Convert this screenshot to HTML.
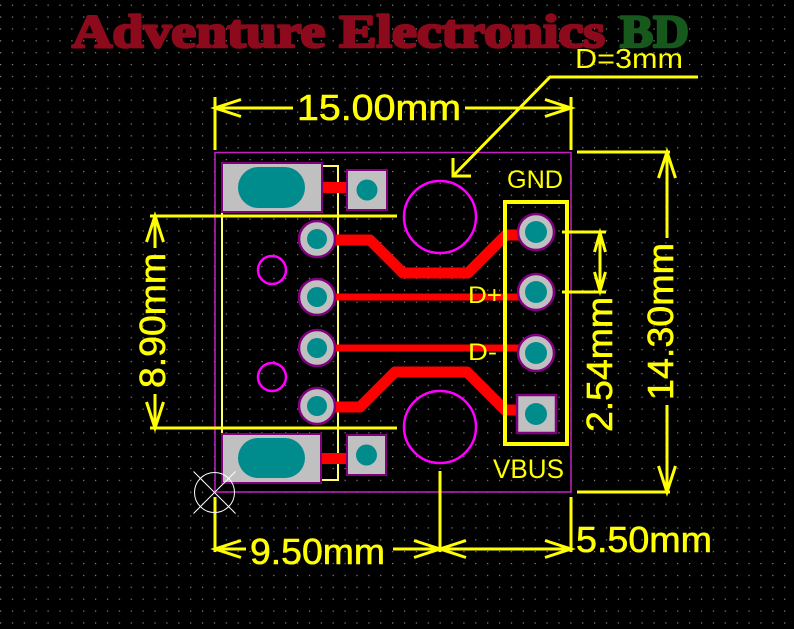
<!DOCTYPE html>
<html>
<head>
<meta charset="utf-8">
<style>
  html,body{margin:0;padding:0;background:#000;}
  svg{display:block;}
  .dim{font-family:"Liberation Sans",sans-serif;fill:#ffff00;stroke:#ffff00;stroke-width:0.6;}
  .lbl{font-family:"Liberation Sans",sans-serif;fill:#ffff00;}
  .yl{stroke:#ffff00;stroke-width:3;fill:none;}
</style>
</head>
<body>
<svg width="794" height="629" viewBox="0 0 794 629" xmlns="http://www.w3.org/2000/svg">
  <defs>
    <pattern id="g" width="11.88" height="11.88" patternUnits="userSpaceOnUse" x="0" y="4.6">
      <rect x="0" y="0" width="1.2" height="1.2" fill="#8a8a8a"/>
    </pattern>
  </defs>
  <rect width="794" height="629" fill="#000"/>
  <rect width="792" height="629" fill="url(#g)"/>

  <!-- Title -->
  <text x="72" y="47" font-family="Liberation Serif, serif" font-weight="bold" font-size="47" fill="#8c0a1c" stroke="#8c0a1c" stroke-width="2.6" stroke-linejoin="round" textLength="533" lengthAdjust="spacingAndGlyphs">Adventure Electronics</text>
  <text x="620" y="47" font-family="Liberation Serif, serif" font-weight="bold" font-size="47" fill="#17581d" stroke="#17581d" stroke-width="2.6" stroke-linejoin="round" textLength="69" lengthAdjust="spacingAndGlyphs">BD</text>

  <!-- Board outline -->
  <rect x="215" y="152.5" width="356" height="339.5" fill="none" stroke="#c020c0" stroke-width="1.5"/>

  <!-- Connector silkscreen -->
  <rect x="222" y="166" width="116" height="314" fill="none" stroke="#ffff66" stroke-width="2"/>

  <!-- Traces -->
  <path d="M317 240 H370 L403 273 H468 L506 235 H536" stroke="#ff0000" stroke-width="11" fill="none" stroke-linejoin="round"/>
  <path d="M317 407 H360 L395 372 H467 L505 410 H536" stroke="#ff0000" stroke-width="11" fill="none" stroke-linejoin="round"/>
  <path d="M317 297 H536" stroke="#ff0000" stroke-width="7" fill="none"/>
  <path d="M317 348 H536" stroke="#ff0000" stroke-width="7" fill="none"/>
  <rect x="321" y="182" width="27" height="11" fill="#ff0000"/>
  <rect x="321" y="453" width="27" height="11" fill="#ff0000"/>

  <!-- Big shield pads -->
  <rect x="222" y="163" width="100" height="49" fill="#c0c0c0" stroke="#800080" stroke-width="2"/>
  <rect x="238" y="167" width="67" height="41" rx="20.5" fill="#008c8c"/>
  <rect x="222" y="434" width="99" height="49" fill="#c0c0c0" stroke="#800080" stroke-width="2"/>
  <rect x="238" y="438" width="67" height="40" rx="20" fill="#008c8c"/>

  <!-- Small square pads -->
  <rect x="347" y="170" width="40" height="40" fill="#c0c0c0" stroke="#800080" stroke-width="2"/>
  <circle cx="367" cy="190" r="10.5" fill="#008c8c"/>
  <rect x="347" y="435" width="39" height="40" fill="#c0c0c0" stroke="#800080" stroke-width="2"/>
  <circle cx="366.5" cy="455" r="10.5" fill="#008c8c"/>

  <!-- Left round pads -->
  <g fill="#c0c0c0" stroke="#800080" stroke-width="2.5">
    <circle cx="317" cy="239" r="18"/>
    <circle cx="317" cy="297" r="18"/>
    <circle cx="317" cy="348" r="18"/>
    <circle cx="317" cy="406" r="18"/>
  </g>
  <g fill="#008c8c">
    <circle cx="317" cy="239" r="10"/>
    <circle cx="317" cy="297" r="10"/>
    <circle cx="317" cy="348" r="10"/>
    <circle cx="317" cy="406" r="10"/>
  </g>

  <!-- Header outline -->
  <rect x="505" y="202" width="62" height="242" fill="none" stroke="#ffff00" stroke-width="4"/>

  <!-- Header pads -->
  <g fill="#c0c0c0" stroke="#800080" stroke-width="2.5">
    <circle cx="536" cy="232" r="18"/>
    <circle cx="536" cy="292" r="18"/>
    <circle cx="536" cy="353" r="18"/>
    <rect x="517" y="395" width="39" height="38"/>
  </g>
  <g fill="#008c8c">
    <circle cx="536" cy="232" r="11"/>
    <circle cx="536" cy="292" r="11"/>
    <circle cx="536" cy="353" r="11"/>
    <circle cx="536" cy="414" r="11"/>
  </g>

  <!-- Mounting holes -->
  <g fill="none" stroke="#ff00ff" stroke-width="2.5">
    <circle cx="440" cy="217" r="36"/>
    <circle cx="440" cy="427" r="36"/>
    <circle cx="272" cy="270" r="14"/>
    <circle cx="272" cy="377" r="14"/>
  </g>

  <!-- Pin labels -->
  <text class="lbl" x="507" y="188" font-size="25" textLength="56" lengthAdjust="spacingAndGlyphs">GND</text>
  <text class="lbl" x="468" y="303" font-size="24" textLength="34" lengthAdjust="spacingAndGlyphs">D+</text>
  <text class="lbl" x="468" y="360" font-size="24" textLength="29" lengthAdjust="spacingAndGlyphs">D-</text>
  <text class="lbl" x="493" y="478" font-size="27" textLength="71" lengthAdjust="spacingAndGlyphs">VBUS</text>

  <!-- 15.00mm dimension -->
  <path class="yl" d="M215 97 V150 M571 97 V150 M215 108 H293 M465 108 H571"/>
  <path class="yl" d="M241 99.5 L215 108 L241 116.5 M545 99.5 L571 108 L545 116.5"/>
  <text class="dim" x="297" y="120" font-size="36" textLength="164" lengthAdjust="spacingAndGlyphs">15.00mm</text>

  <!-- D=3mm leader -->
  <text class="lbl" x="575" y="68" font-size="28" textLength="108" lengthAdjust="spacingAndGlyphs">D=3mm</text>
  <path class="yl" d="M698 77 H550 L453 176"/>
  <path class="yl" d="M453 158 V176 H471"/>

  <!-- 8.90mm dimension -->
  <path class="yl" d="M150 216 H397 M150 428 H397 M155 216 V248 M155 394 V428"/>
  <path class="yl" d="M146.5 242 L155 216 L163.5 242 M146.5 402 L155 428 L163.5 402"/>
  <text class="dim" transform="translate(165,388) rotate(-90)" x="0" y="0" font-size="36" textLength="135" lengthAdjust="spacingAndGlyphs">8.90mm</text>

  <!-- 2.54mm dimension -->
  <path class="yl" d="M562 232 H606 M562 292 H606 M600 232 V292"/>
  <path class="yl" d="M594.5 252 L600 233 L605.5 252 M594.5 272 L600 291 L605.5 272"/>
  <text class="dim" transform="translate(612,432) rotate(-90)" x="0" y="0" font-size="36" textLength="135" lengthAdjust="spacingAndGlyphs">2.54mm</text>

  <!-- 14.30mm dimension -->
  <path class="yl" d="M577 152 H670 M577 492 H670 M667 152 V238 M667 405 V492"/>
  <path class="yl" d="M658.5 178 L667 152 L675.5 178 M658.5 466 L667 492 L675.5 466"/>
  <text class="dim" transform="translate(673,400) rotate(-90)" x="0" y="0" font-size="36" textLength="157" lengthAdjust="spacingAndGlyphs">14.30mm</text>

  <!-- 9.50mm / 5.50mm dimensions -->
  <path class="yl" d="M215 497 V552 M440 471 V552 M571 497 V552 M215 549 H246 M393 549 H571"/>
  <path class="yl" d="M241 540.5 L215 549 L241 557.5 M414 540.5 L440 549 L414 557.5 M466 540.5 L440 549 L466 557.5 M545 540.5 L571 549 L545 557.5"/>
  <text class="dim" x="250" y="564" font-size="36" textLength="135" lengthAdjust="spacingAndGlyphs">9.50mm</text>
  <text class="dim" x="576" y="552" font-size="36" textLength="136" lengthAdjust="spacingAndGlyphs">5.50mm</text>

  <!-- Origin marker -->
  <circle cx="214.5" cy="492.5" r="20" fill="none" stroke="#ffffff" stroke-width="1"/>
  <path d="M193.5 471.5 L235.5 513.5 M235.5 471.5 L193.5 513.5" stroke="#ffffff" stroke-width="1" fill="none"/>
</svg>
</body>
</html>
